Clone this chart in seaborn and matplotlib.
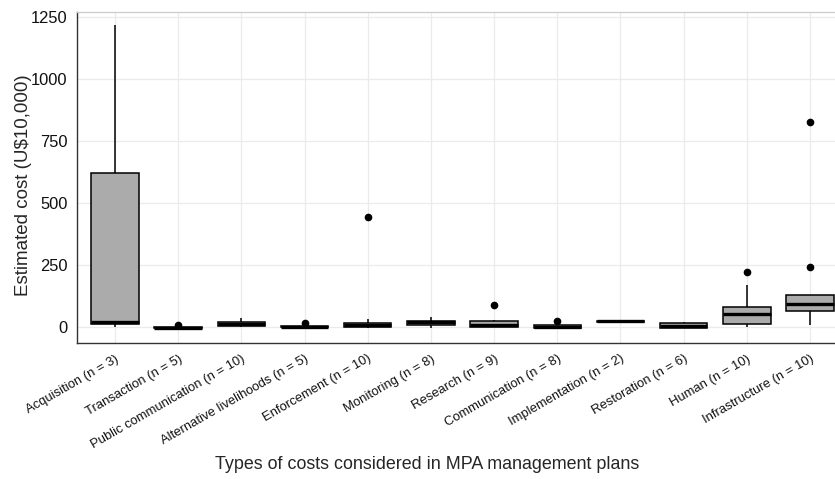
import numpy as np
import pandas as pd
import matplotlib
matplotlib.use("Agg")
import matplotlib.pyplot as plt
import seaborn as sns

categories = ["Acquisition (n = 3)", "Transaction (n = 5)", "Public communication (n = 10)",
              "Alternative livelihoods (n = 5)", "Enforcement (n = 10)", "Monitoring (n = 8)",
              "Research (n = 9)", "Communication (n = 8)", "Implementation (n = 2)",
              "Restoration (n = 6)", "Human (n = 10)", "Infrastructure (n = 10)"]

acquisition = [2, 22, 1218]
transaction = [-6, -4, -3, 0, 11]
public_communication = [0, 2, 4, 8, 12, 16, 20, 24, 30, 38]
alternative_livelihoods = [-2, 0, 2, 5, 17]
enforcement = [-3, -1, 0, 4, 6, 10, 16, 20, 32, 445]
monitoring = [-1, 8, 12, 18, 22, 26, 30, 42]
research = [0, 1, 2, 6, 10, 18, 27, 30, 89]
communication = [-5, -4, -2, 1, 3, 7, 10, 25]
implementation = [18, 30]
restoration = [-3, -2, 2, 8, 20, 22]
human = [0, 5, 12, 24, 48, 62, 70, 86, 169, 223]
infrastructure = [11, 40, 60, 76, 90, 100, 126, 130, 243, 825]

series = [acquisition, transaction, public_communication, alternative_livelihoods,
          enforcement, monitoring, research, communication, implementation,
          restoration, human, infrastructure]

df = pd.DataFrame({
    "category": [c for c, vals in zip(categories, series) for _ in vals],
    "cost": [v for vals in series for v in vals],
})

sns.set_style("white")
plt.rcParams["font.family"] = ["Liberation Sans", "DejaVu Sans"]

W, H = 835, 479
fig = plt.figure(figsize=(W / 100, H / 100), dpi=100)
left, right, top, bottom = 77, 848, 11.5, 343
ax = fig.add_axes([left / W, 1 - bottom / H, (right - left) / W, (bottom - top) / H])

sns.boxplot(data=df, x="category", y="cost", order=categories, ax=ax,
            color="#ABABAB", saturation=1, width=0.75, linewidth=1.1,
            linecolor="black", whis=1.5, showcaps=False,
            flierprops=dict(marker="o", markerfacecolor="black",
                            markeredgecolor="black", markersize=4.5),
            medianprops=dict(color="black", linewidth=2.4))

ax.set_xlim(-0.6, 11.6)
ax.set_ylim(-63, 1272)
ax.set_yticks([0, 250, 500, 750, 1000, 1250])
ax.grid(True, color="#EBEBEB", linewidth=0.9)
ax.set_axisbelow(True)

for s in ["left", "bottom"]:
    ax.spines[s].set_color("#333333")
    ax.spines[s].set_linewidth(1.0)
ax.spines["top"].set_color("#CCCCCC")
ax.spines["top"].set_linewidth(0.9)
ax.spines["right"].set_visible(False)

ax.tick_params(axis="both", length=4, width=0.9, color="#333333")
ax.tick_params(axis="y", labelsize=11.9, labelcolor="#111111", pad=3)
ax.tick_params(axis="x", labelsize=9.4, labelcolor="#111111", pad=3)
plt.setp(ax.get_xticklabels(), rotation=30, ha="right", rotation_mode="anchor")

ax.set_ylabel("Estimated cost (U$10,000)", fontsize=13.5)
ax.yaxis.set_label_coords(-(left - 32) / (right - left), (bottom - 185) / (bottom - top))
ax.set_xlabel("Types of costs considered in MPA management plans", fontsize=12.9)
ax.xaxis.set_label_coords((427 - left) / (right - left), -(456 - bottom) / (bottom - top))

fig.savefig("out.png", dpi=100)
